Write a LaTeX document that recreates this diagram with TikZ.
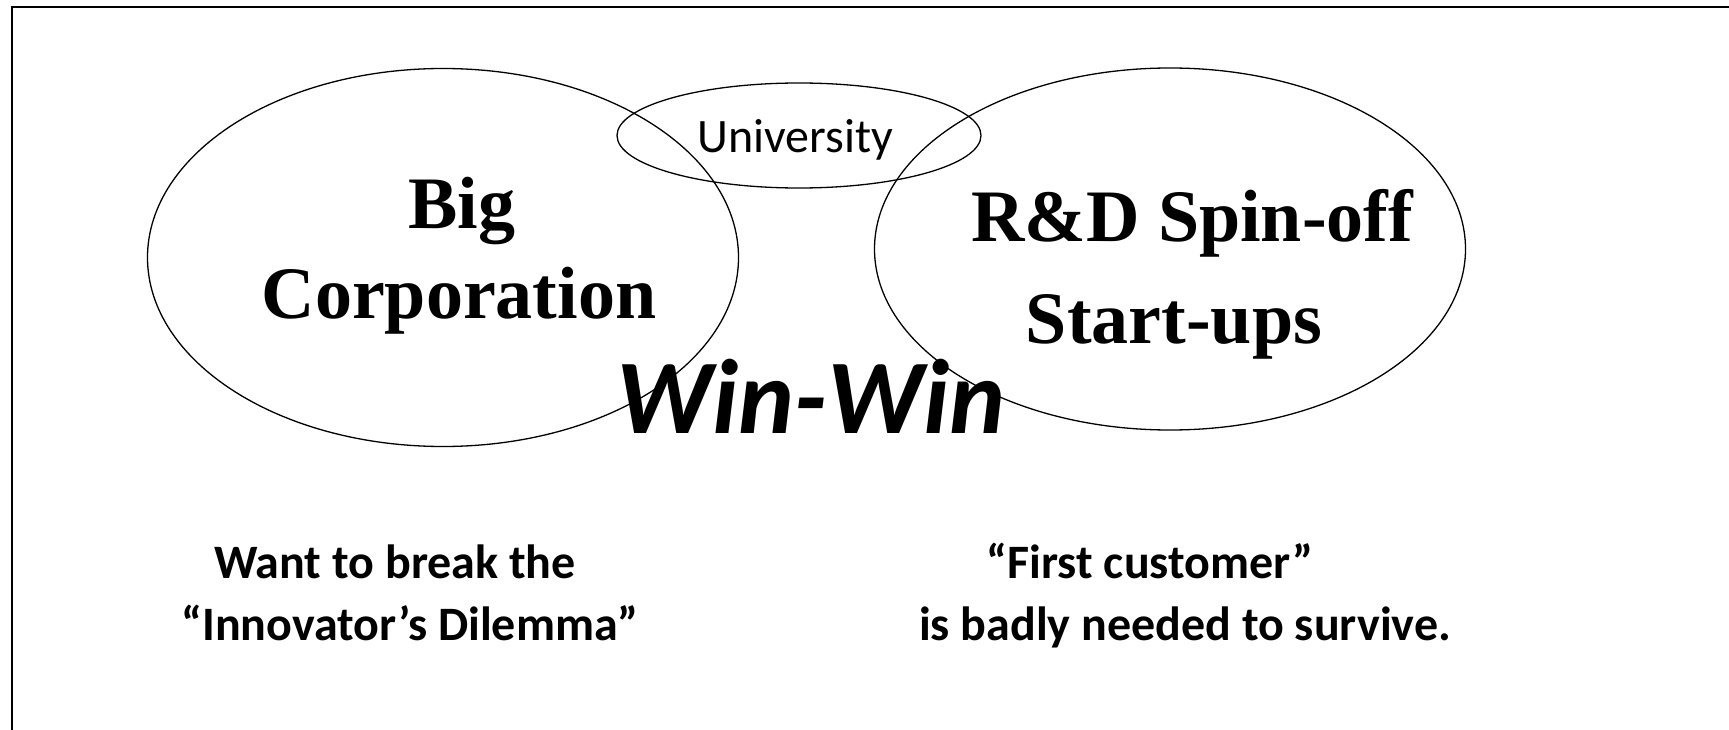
\documentclass[tikz,border=0pt]{standalone}
\usepackage{fontspec}
\setmainfont{Carlito}
\newfontfamily\headserif{Liberation Serif}
\usetikzlibrary{shapes.geometric}
\begin{document}
\begin{tikzpicture}[x=1pt,y=-1pt,
  ring/.style={draw, ellipse, line width=1.3pt, inner sep=0pt},
  title/.style={anchor=base, inner sep=0pt, font=\headserif\bfseries\fontsize{74}{80}\selectfont},
  note/.style={anchor=base, inner sep=0pt, font=\bfseries\fontsize{48}{56}\selectfont}]
  \useasboundingbox (0,0) rectangle (1729,730);
  % open frame: only top and left edges lie on the page
  \draw[line width=2pt] (12,730) -- (12,7.5) -- (1729,7.5);

  % the three overlapping ellipses
  \node[ring, minimum width=591pt, minimum height=378pt] (corp) at (443,257.5) {};
  \node[ring, minimum width=591pt, minimum height=362pt] (spin) at (1170,249) {};
  \node[ring, minimum width=364pt, minimum height=105pt] (univ) at (799,135.5) {};

  % labels inside the ellipses
  \node[anchor=base, inner sep=0pt, font=\fontsize{48}{54}\selectfont] (univtxt) at (795,153) {University};
  \node[title] (big) at (462,229) {Big};
  \node[title] (corporation) at (459,318) {Corporation};
  \node[title] (rd) at (1192,241) {R\&D Spin-off};
  \node[title] (startups) at (1174,343) {Start-ups};

  % centre slogan
  \node[anchor=base, inner sep=0pt, font=\bfseries\itshape\fontsize{106}{112}\selectfont] (winwin) at (811,433) {Win-Win};

  % explanatory notes
  \node[note] (want) at (395,578) {Want to break the};
  \node[note] (dilemma) at (410,640) {“Innovator’s Dilemma”};
  \node[note] (first) at (1150,578) {“First customer”};
  \node[note] (survive) at (1185,640) {is badly needed to survive.};
\end{tikzpicture}
\end{document}
